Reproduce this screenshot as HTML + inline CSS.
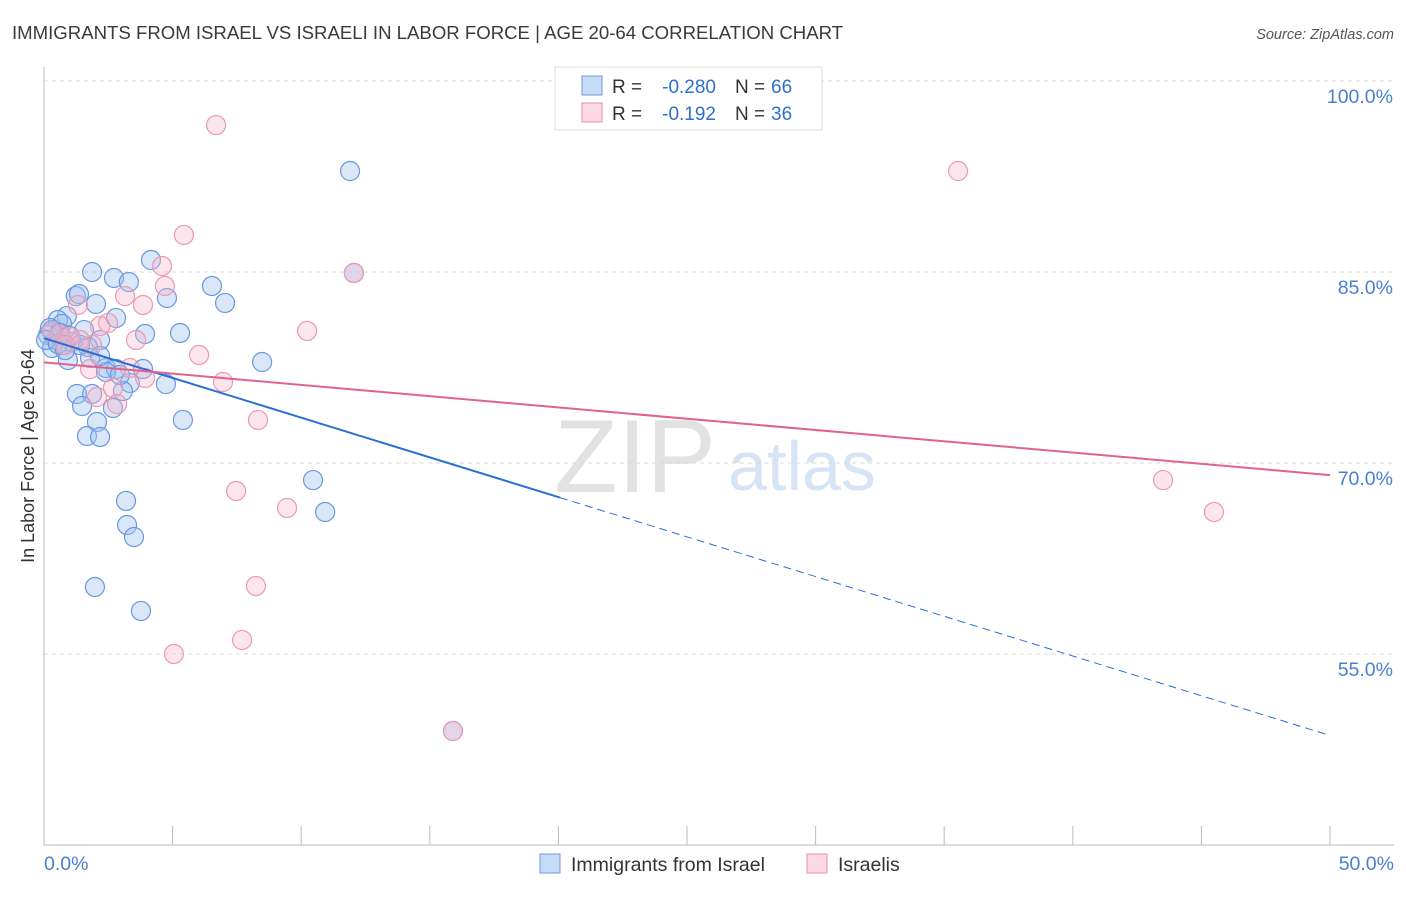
<!DOCTYPE html>
<html><head><meta charset="utf-8"><style>
body{margin:0;background:#fff;font-family:"Liberation Sans",sans-serif;}
svg text{font-family:"Liberation Sans",sans-serif;}
</style></head><body>
<svg width="1406" height="892" xmlns="http://www.w3.org/2000/svg" id="c">
<text x="12" y="39" font-size="18.6" fill="#3a3a3a">IMMIGRANTS FROM ISRAEL VS ISRAELI IN LABOR FORCE | AGE 20-64 CORRELATION CHART</text>
<text x="1394" y="39" font-size="14.5" fill="#555" text-anchor="end" font-style="italic">Source: ZipAtlas.com</text>
<text x="635" y="492" font-size="104" fill="#e2e2e2" font-family="Liberation Serif" text-anchor="middle">ZIP</text>
<text x="802" y="490" font-size="70" fill="#d6e4f6" text-anchor="middle">atlas</text>
<g id="grid"></g>
<g id="axes"></g>
<g id="pts"></g>
<g id="lines"></g>
<text x="34" y="456" font-size="18" fill="#333" text-anchor="middle" transform="rotate(-90 34 456)">In Labor Force | Age 20-64</text>
<g>
<rect x="555" y="67" width="267" height="63" fill="#fff" stroke="#ddd"/>
<rect x="582" y="76" width="20" height="19" fill="rgba(160,196,240,0.6)" stroke="#6b9ae0"/>
<rect x="582" y="103" width="20" height="19" fill="rgba(248,190,208,0.6)" stroke="#e890ae"/>
<text x="612" y="93" font-size="19" fill="#333">R =</text>
<text x="716" y="93" font-size="19" fill="#2f6fd0" text-anchor="end">-0.280</text>
<text x="735" y="93" font-size="19" fill="#333">N =</text>
<text x="771" y="93" font-size="19" fill="#2f6fd0">66</text>
<text x="612" y="120" font-size="19" fill="#333">R =</text>
<text x="716" y="120" font-size="19" fill="#2f6fd0" text-anchor="end">-0.192</text>
<text x="735" y="120" font-size="19" fill="#333">N =</text>
<text x="771" y="120" font-size="19" fill="#2f6fd0">36</text>
</g>
<g>
<rect x="540" y="854" width="20" height="19" fill="rgba(160,196,240,0.6)" stroke="#6b9ae0"/>
<text x="571" y="871" font-size="19.5" fill="#333">Immigrants from Israel</text>
<rect x="807" y="854" width="20" height="19" fill="rgba(248,190,208,0.6)" stroke="#e890ae"/>
<text x="838" y="871" font-size="19.5" fill="#333">Israelis</text>
</g>
</svg>
<script>
const blueX=[11.90,4.16,1.87,2.72,3.30,6.53,4.78,7.04,2.02,1.24,1.36,2.80,0.89,0.54,0.70,5.29,3.93,1.56,2.18,0.31,0.16,0.47,0.70,1.09,1.71,0.31,8.48,0.93,1.79,2.41,2.80,3.85,2.41,3.34,4.74,3.07,1.28,1.87,1.48,2.68,5.40,2.06,1.67,2.18,10.46,3.19,10.93,3.23,3.50,1.98,3.77,15.90,12.05,0.23,0.62,1.01,0.08,0.54,1.40,2.18,2.95,0.82];
const blueY=[92.93,85.94,85.0,84.53,84.21,83.9,82.96,82.57,82.49,83.11,83.27,81.39,81.54,81.23,80.92,80.21,80.13,80.44,79.66,80.44,80.05,79.66,79.27,79.5,79.11,79.03,77.93,78.09,78.25,77.46,77.38,77.38,77.15,76.28,76.2,75.65,75.42,75.42,74.48,74.32,73.38,73.22,72.12,72.04,68.66,67.02,66.15,65.13,64.19,60.26,58.38,48.95,84.92,80.6,80.21,79.97,79.66,79.35,79.27,78.4,76.91,78.87];
const pinkX=[6.69,35.54,5.44,4.59,12.05,4.70,3.15,3.85,1.32,10.23,2.49,2.18,3.58,1.01,1.87,6.03,1.79,3.34,3.93,6.96,2.68,2.06,2.84,8.32,7.47,9.45,8.24,7.70,5.05,15.90,43.51,45.49,0.62,1.40,0.31,0.82];
const pinkY=[96.54,92.93,87.91,85.47,84.92,83.9,83.11,82.41,82.41,80.37,81.0,80.76,79.66,79.9,79.27,78.48,77.38,77.46,76.68,76.36,75.89,75.18,74.63,73.38,67.8,66.47,60.34,56.1,55.0,48.95,68.66,66.15,80.05,79.66,80.29,79.27];
const yTicks=[100,85,70,55];
const yTickLabels=["100.0%","85.0%","70.0%","55.0%"];
const blueTrend=[79.8,48.6];
const blueSolidEnd=20.06;
const pinkTrend=[77.9,69.05];
const NS="http://www.w3.org/2000/svg";
const sx=v=>44+v*25.72, sy=v=>81+(100-v)*12.733;
function mk(t,a,p){const e=document.createElementNS(NS,t);for(const k in a)e.setAttribute(k,a[k]);document.getElementById(p).appendChild(e);return e;}
yTicks.forEach((t,i)=>{
 const l=mk('line',{x1:44,x2:1394,y1:sy(t),y2:sy(t),stroke:'#d8d8d8','stroke-dasharray':'4,4'},'grid');
 
 
 const tx=mk('text',{x:1393,y:sy(t)+22,'font-size':19.5,fill:'#4a7fd0','text-anchor':'end'},'grid');
 tx.textContent=yTickLabels[i];
 
 
});
let ax=mk('line',{x1:44,x2:44,y1:67,y2:845,stroke:'#bbb'},'axes');


ax=mk('line',{x1:44,x2:1394,y1:845,y2:845,stroke:'#bbb'},'axes');


for(let i=0;i<=10;i++){const t=mk('line',{x1:sx(i*5),x2:sx(i*5),y1:826,y2:845,stroke:'#bbb'},'axes');
 
 }
[["0.0%",44,"start"],["50.0%",1394,"end"]].forEach(a=>{const t=mk('text',{x:a[1],y:870,'font-size':19.5,fill:'#4a7fd0','text-anchor':a[2]},'axes');t.textContent=a[0];
 
 });
blueX.forEach((x,i)=>{const c=mk('circle',{cx:sx(x),cy:sy(blueY[i]),r:9.5,fill:'rgba(160,196,240,0.4)',stroke:'#6a98de','stroke-width':1.2},'pts');
 
 });
pinkX.forEach((x,i)=>{const c=mk('circle',{cx:sx(x),cy:sy(pinkY[i]),r:9.5,fill:'rgba(245,180,200,0.35)',stroke:'#ea9ab4','stroke-width':1.2},'pts');
 
 });
const by=x=>blueTrend[0]+(blueTrend[1]-blueTrend[0])*x/50;
let ln=mk('line',{x1:sx(0),y1:sy(by(0)),x2:sx(blueSolidEnd),y2:sy(by(blueSolidEnd)),stroke:'#2a6fd6','stroke-width':2},'lines');


ln=mk('line',{x1:sx(blueSolidEnd),y1:sy(by(blueSolidEnd)),x2:sx(50),y2:sy(by(50)),stroke:'#2a6fd6','stroke-width':1,'stroke-dasharray':'8,5'},'lines');


ln=mk('line',{x1:sx(0),y1:sy(pinkTrend[0]),x2:sx(50),y2:sy(pinkTrend[1]),stroke:'#e0628f','stroke-width':2},'lines');


</script>
</body></html>
